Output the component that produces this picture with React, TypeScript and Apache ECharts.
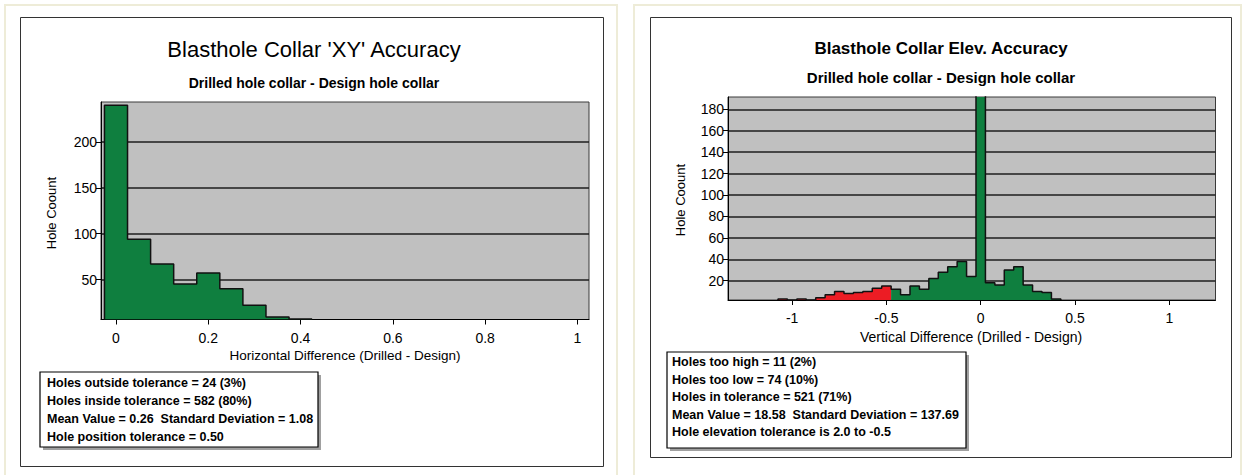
import React, { useEffect, useRef } from "react";
import * as echarts from "echarts";

// ---------- DATA ----------
const binWidth = 0.05;

const xyBinCenters = [0, 0.05, 0.1, 0.15, 0.2, 0.25, 0.3, 0.35, 0.4];
const xyCounts = [240, 94, 67, 45, 57, 40, 22, 9, 7];
const xyXTicks = [0, 0.2, 0.4, 0.6, 0.8, 1];
const xyYTicks = [50, 100, 150, 200];

const elevBinCenters = [
  -1.05, -1.0, -0.95, -0.9, -0.85, -0.8, -0.75, -0.7, -0.65, -0.6, -0.55, -0.5,
  -0.45, -0.4, -0.35, -0.3, -0.25, -0.2, -0.15, -0.1, -0.05, 0, 0.05, 0.1, 0.15,
  0.2, 0.25, 0.3, 0.35, 0.4,
];
const elevCounts = [
  3, 2, 3, 2, 4, 7, 10, 8, 9, 10, 13, 15, 12, 7, 15, 12, 22, 28, 33, 38, 24, 196,
  18, 16, 30, 33, 16, 10, 9, 3,
];
const elevXTicks = [-1, -0.5, 0, 0.5, 1];
const elevYTicks = [20, 40, 60, 80, 100, 120, 140, 160, 180];
const elevLowTolerance = -0.5;

const xyTitle = "Blasthole Collar 'XY' Accuracy";
const elevTitle = "Blasthole Collar Elev. Accuracy";
const subTitle = "Drilled hole collar - Design hole collar";
const xyXName = "Horizontal Difference (Drilled - Design)";
const elevXName = "Vertical Difference (Drilled - Design)";
const yName = "Hole Coount";

const xyStats = [
  "Holes outside tolerance = 24 (3%)",
  "Holes inside tolerance = 582 (80%)",
  "Mean Value = 0.26  Standard Deviation = 1.08",
  "Hole position tolerance = 0.50",
];
const elevStats = [
  "Holes too high = 11 (2%)",
  "Holes too low = 74 (10%)",
  "Holes in tolerance = 521 (71%)",
  "Mean Value = 18.58  Standard Deviation = 137.69",
  "Hole elevation tolerance is 2.0 to -0.5",
];

// ---------- helpers ----------
const FONT = "'Liberation Sans', Arial, Helvetica, sans-serif";
const GREEN = "#0f7f3f";
const RED = "#ec1c24";

const r = (v: number) => Math.round(v * 10000) / 10000;

function stepData(centers: number[], counts: number[], base: number) {
  const pts: number[][] = [];
  if (!centers.length) return pts;
  const e0 = r(centers[0] - binWidth / 2);
  pts.push([e0, base]);
  centers.forEach((c, i) => pts.push([r(c - binWidth / 2), counts[i]]));
  const last = r(centers[centers.length - 1] + binWidth / 2);
  pts.push([last, counts[counts.length - 1]]);
  pts.push([last, base]);
  return pts;
}

function text(x: number, y: number, t: string, size: number, weight: string, align = "center", rotation = 0) {
  return {
    type: "text",
    x,
    y,
    rotation,
    z: 10,
    style: {
      text: t,
      fill: "#000",
      fontSize: size,
      fontWeight: weight,
      fontFamily: FONT,
      align,
      textAlign: align,
      verticalAlign: "middle",
      textVerticalAlign: "middle",
    },
  };
}

function statBox(x: number, y: number, w: number, h: number, lines: string[], tx: number, ty: number, dy: number) {
  const els: any[] = [
    { type: "rect", z: 8, shape: { x: x + 3, y: y + 3, width: w, height: h }, style: { fill: "#a0a0a0" } },
    { type: "rect", z: 9, shape: { x, y, width: w, height: h }, style: { fill: "#fff", stroke: "#000", lineWidth: 1.2 } },
  ];
  lines.forEach((l, i) => els.push(text(tx, ty + i * dy, l, 12.5, "bold", "left")));
  return els;
}

const axisCommonX = (gridIndex: number, min: number, max: number, ticks: number[]) => ({
  type: "value",
  gridIndex,
  min,
  max,
  axisLine: { show: true, onZero: false, lineStyle: { color: "#000", width: 1 } },
  axisTick: { show: true, customValues: ticks, length: 5, inside: false, lineStyle: { color: "#000", width: 1 } },
  axisLabel: { show: true, customValues: ticks, fontSize: 14, color: "#000", fontFamily: FONT, margin: 11, hideOverlap: false },
  splitLine: { show: false },
});

const axisCommonY = (gridIndex: number, min: number, max: number, ticks: number[]) => ({
  type: "value",
  gridIndex,
  min,
  max,
  axisLine: { show: true, onZero: false, lineStyle: { color: "#000", width: 1 } },
  axisTick: { show: true, customValues: ticks, length: 5, inside: false, lineStyle: { color: "#000", width: 1 } },
  axisLabel: { show: true, customValues: ticks, fontSize: 14, color: "#000", fontFamily: FONT, margin: 4, hideOverlap: false },
  splitLine: { show: true, lineStyle: { color: "#1e1e1e", width: 1.5 } },
});

function areaSeries(xi: number, data: number[][], color: string) {
  return {
    type: "line",
    xAxisIndex: xi,
    yAxisIndex: xi,
    step: "end",
    data,
    symbol: "none",
    showSymbol: false,
    lineStyle: { width: 0, opacity: 0 },
    areaStyle: { color, opacity: 1, origin: "start" },
    z: 2,
    silent: true,
  };
}

function outlineSeries(xi: number, data: number[][]) {
  return {
    type: "line",
    xAxisIndex: xi,
    yAxisIndex: xi,
    step: "end",
    data,
    symbol: "none",
    showSymbol: false,
    lineStyle: { width: 1.5, color: "#111" },
    z: 3,
    silent: true,
  };
}

export default function App() {
  const ref = useRef<HTMLDivElement>(null);

  useEffect(() => {
    if (!ref.current) return;
    const chart = echarts.init(ref.current, undefined, { renderer: "svg" });

    const xyMin = 6.4;
    const elevMin = 2;

    const redC: number[] = [];
    const redV: number[] = [];
    const greenC: number[] = [];
    const greenV: number[] = [];
    elevBinCenters.forEach((c, i) => {
      if (c <= elevLowTolerance + 1e-9) {
        redC.push(c);
        redV.push(elevCounts[i]);
      } else {
        greenC.push(c);
        greenV.push(elevCounts[i]);
      }
    });

    const option: any = {
      animation: false,
      backgroundColor: "#fff",
      grid: [
        { left: 101, top: 102, width: 488, height: 217.5, show: true, backgroundColor: "#c0c0c0", borderColor: "#3a3a3a", borderWidth: 1, containLabel: false },
        { left: 728, top: 97, width: 487.5, height: 203, show: true, backgroundColor: "#c0c0c0", borderColor: "#3a3a3a", borderWidth: 1, containLabel: false },
      ],
      xAxis: [
        axisCommonX(0, -0.0325, 1.025, xyXTicks),
        axisCommonX(1, -1.34, 1.245, elevXTicks),
      ],
      yAxis: [
        axisCommonY(0, xyMin, 243.6, xyYTicks),
        axisCommonY(1, elevMin, 191.5, elevYTicks),
      ],
      series: [
        areaSeries(0, stepData(xyBinCenters, xyCounts, xyMin), GREEN),
        outlineSeries(0, stepData(xyBinCenters, xyCounts, xyMin)),
        areaSeries(1, stepData(redC, redV, elevMin), RED),
        areaSeries(1, stepData(greenC, greenV, elevMin), GREEN),
        outlineSeries(1, stepData(elevBinCenters, elevCounts, elevMin)),
      ],
      graphic: [
        { type: "rect", z: 1, shape: { x: 5, y: 5, width: 612, height: 480 }, style: { fill: "none", stroke: "#eeecd8", lineWidth: 2 } },
        { type: "rect", z: 1, shape: { x: 634, y: 5, width: 607, height: 480 }, style: { fill: "none", stroke: "#eeecd8", lineWidth: 2 } },
        { type: "rect", z: 1, shape: { x: 20.5, y: 17.5, width: 583, height: 449 }, style: { fill: "none", stroke: "#333", lineWidth: 1 } },
        { type: "rect", z: 1, shape: { x: 650.5, y: 17.5, width: 581, height: 440 }, style: { fill: "none", stroke: "#333", lineWidth: 1 } },
        text(314, 49, xyTitle, 22, "normal"),
        text(314, 83, subTitle, 14, "bold"),
        text(941, 48, elevTitle, 17, "bold"),
        text(941, 77, subTitle, 15, "bold"),
        text(345, 355, xyXName, 13.5, "normal"),
        text(971, 337, elevXName, 14, "normal"),
        text(51, 213, yName, 13, "normal", "center", Math.PI / 2),
        text(680, 200, yName, 13, "normal", "center", Math.PI / 2),
        ...statBox(40, 372, 278, 75, xyStats, 47, 383, 18),
        ...statBox(667, 352, 299, 96, elevStats, 672, 362, 17.5),
      ],
    };

    chart.setOption(option);
    return () => chart.dispose();
  }, []);

  return (
    <div
      ref={ref}
      style={{ position: "fixed", left: 0, top: 0, width: 1243, height: 475, background: "#fff" }}
    />
  );
}
